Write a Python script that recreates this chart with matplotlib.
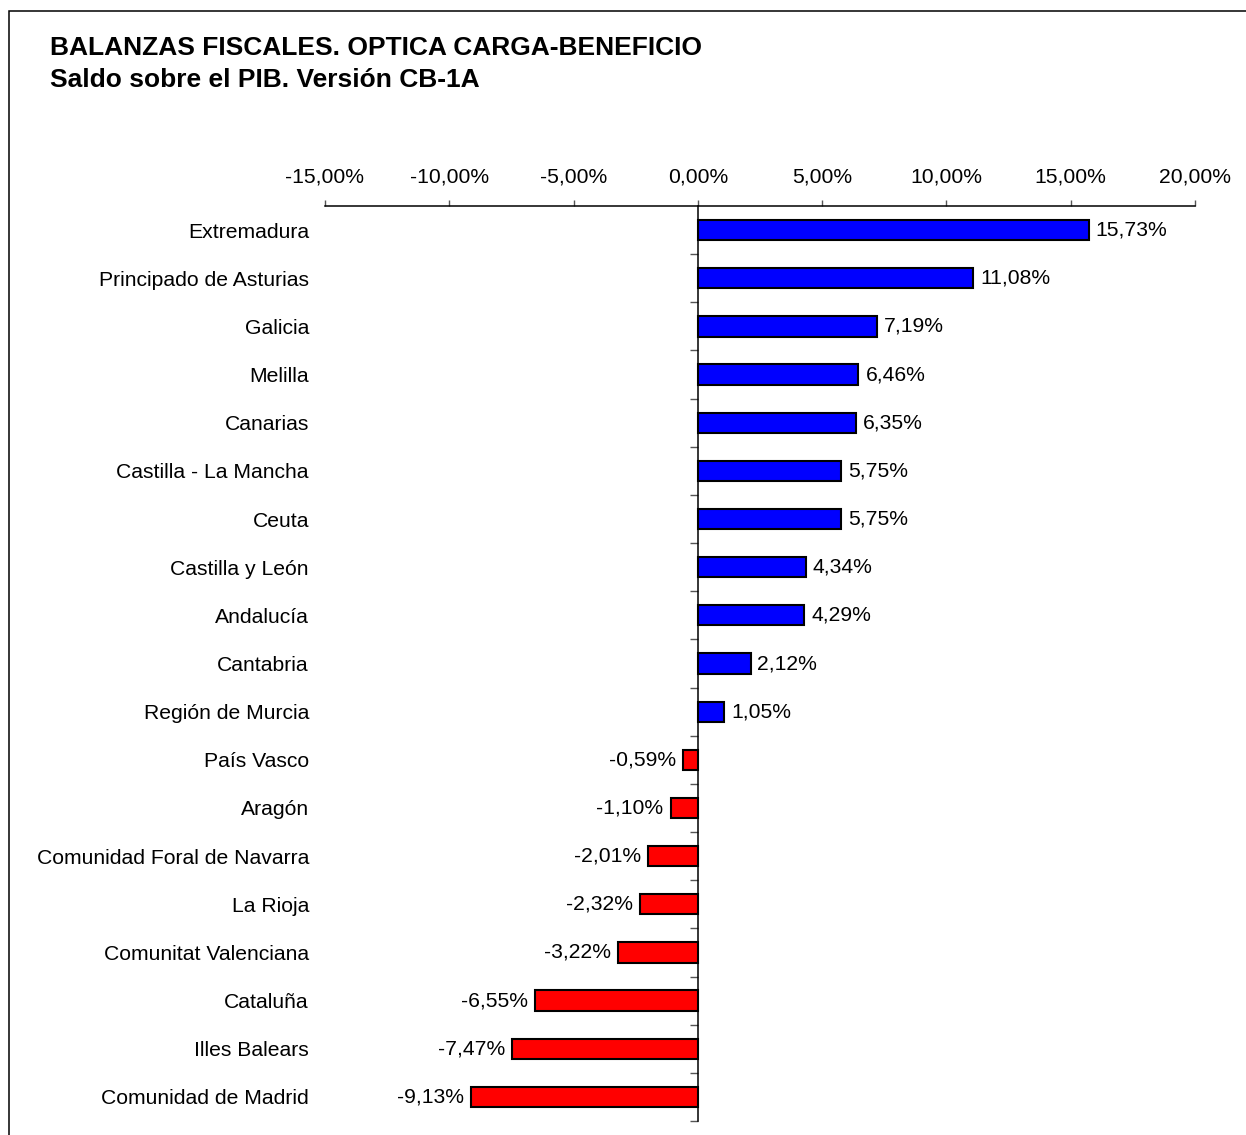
import matplotlib
matplotlib.use("Agg")
import matplotlib.pyplot as plt
from matplotlib.patches import Rectangle
from matplotlib.ticker import FixedLocator, FuncFormatter

plt.rcParams['font.family'] = ['Liberation Sans', 'DejaVu Sans']

categories = ["Extremadura", "Principado de Asturias", "Galicia", "Melilla", "Canarias",
              "Castilla - La Mancha", "Ceuta", "Castilla y León", "Andalucía", "Cantabria",
              "Región de Murcia", "País Vasco", "Aragón", "Comunidad Foral de Navarra",
              "La Rioja", "Comunitat Valenciana", "Cataluña", "Illes Balears", "Comunidad de Madrid"]
values = [15.73, 11.08, 7.19, 6.46, 6.35, 5.75, 5.75, 4.34, 4.29, 2.12, 1.05,
          -0.59, -1.10, -2.01, -2.32, -3.22, -6.55, -7.47, -9.13]
xticks = [-15, -10, -5, 0, 5, 10, 15, 20]

W, H = 1246, 1135
FS = 15.2
fig = plt.figure(figsize=(W / 100, H / 100), dpi=100)

# frame
fig.patches.append(Rectangle((9 / W, -0.1), 2.0, 1 - 11 / H + 0.1, transform=fig.transFigure,
                             fill=False, edgecolor='black', linewidth=1.1))

fig.text(50 / W, 1 - 55 / H, "BALANZAS FISCALES. OPTICA CARGA-BENEFICIO", fontsize=19,
         fontweight='bold', va='baseline', ha='left')
fig.text(50 / W, 1 - 87 / H, "Saldo sobre el PIB. Versión CB-1A", fontsize=19,
         fontweight='bold', va='baseline', ha='left')

left, right = 325 / W, 1195 / W
top, bottom = 1 - 206 / H, 1 - 1121 / H
ax = fig.add_axes([left, bottom, right - left, top - bottom])

ypos = list(range(len(categories)))
colors = ['#0000FF' if v >= 0 else '#FF0000' for v in values]
ax.barh(ypos, values, height=0.42, color=colors, edgecolor='black', linewidth=1.5, zorder=3)

for y, v in zip(ypos, values):
    txt = f"{v:.2f}%".replace('.', ',')
    if v >= 0:
        ax.annotate(txt, (v, y), xytext=(5, 0), textcoords='offset points',
                    ha='left', va='center', fontsize=FS)
    else:
        ax.annotate(txt, (v, y), xytext=(-5, 0), textcoords='offset points',
                    ha='right', va='center', fontsize=FS)

ax.set_xlim(-15, 20)
ax.set_ylim(len(categories) - 0.5, -0.5)

for s in ['bottom', 'right']:
    ax.spines[s].set_visible(False)
ax.spines['left'].set_position(('data', 0))
ax.spines['left'].set_linewidth(1.1)
ax.spines['top'].set_linewidth(1.1)

ax.xaxis.tick_top()
ax.set_xticks(xticks)
ax.xaxis.set_major_formatter(FuncFormatter(lambda x, p: f"{x:.2f}%".replace('.', ',')))
ax.tick_params(axis='x', direction='out', length=4, width=1, color='#555555',
               labelsize=FS, pad=10)

ax.set_yticks(ypos)
ax.set_yticklabels(categories)
ax.yaxis.set_minor_locator(FixedLocator([i + 0.5 for i in range(len(categories))]))
ax.tick_params(axis='y', which='major', length=0, labelsize=FS, pad=280)
ax.tick_params(axis='y', which='minor', length=6, width=1, color='#555555', direction='out')

fig.savefig("out.png", dpi=100)
